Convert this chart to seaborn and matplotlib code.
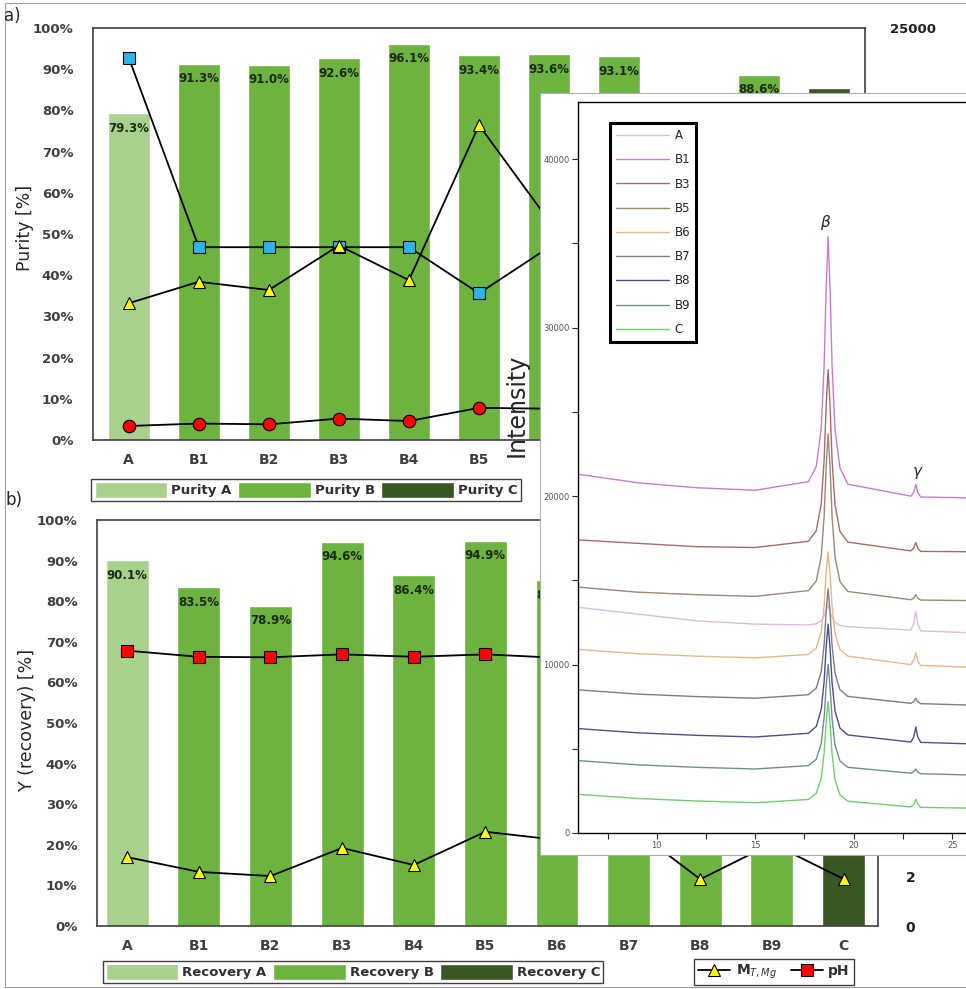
import matplotlib
matplotlib.use('Agg')
import matplotlib.pyplot as plt
from matplotlib.patches import Rectangle, Patch
from matplotlib.lines import Line2D
import numpy as np
import seaborn as sns

# sample names on both bar charts
categories = ['A', 'B1', 'B2', 'B3', 'B4', 'B5', 'B6', 'B7', 'B8', 'B9', 'C']

# a) purity [%] and the three marker series (right axis, 0-25000)
purity = [79.3, 91.3, 91.0, 92.6, 96.1, 93.4, 93.6, 93.1, 81.5, 88.6, 85.5]
conc_square = [23200, 11700, 11700, 11700, 11700, 8900, 11700, 11700, 11700, 11700, 11700]
conc_triangle = [8300, 9600, 9100, 11800, 9700, 19100, 13300, 12000, 11000, 12000, 11000]
conc_circle = [850, 1000, 950, 1300, 1150, 1950, 1900, 1800, 1700, 1800, 1700]

# b) recovery [%], pH and M_T,Mg (right axis)
recovery = [90.1, 83.5, 78.9, 94.6, 86.4, 94.9, 85.2, 88.0, 87.0, 90.0, 82.0]
ph = [11.19, 10.94, 10.92, 11.04, 10.94, 11.04, 10.9, 10.9, 10.9, 10.9, 10.9]
m_mg = [2.8, 2.2, 2.03, 3.17, 2.48, 3.83, 3.5, 4.1, 1.9, 3.35, 1.91]

# inset: XRD patterns read at a set of 2-theta positions
two_theta = [6, 9, 12, 15, 17.7, 18.1, 18.35, 18.5, 18.6, 18.7, 18.8, 18.9, 19.05, 19.3, 19.7,
             22.9, 23.05, 23.15, 23.25, 23.4, 25.7]
xrd_A = [13400, 13000, 12600, 12400, 12350, 12420, 12600, 12900, 13260, 13500, 13160, 12800, 12500, 12320, 12250,
         12050, 12435, 13150, 12420, 12000, 11900]
xrd_B1 = [21300, 20800, 20500, 20350, 20860, 21770, 24040, 27830, 32370, 35400, 32270, 27730, 23940, 21670, 20710,
          20000, 20245, 20700, 20230, 19950, 19900]
xrd_B3 = [17400, 17200, 17000, 16950, 17320, 17960, 19550, 22200, 25380, 27500, 25330, 22150, 19500, 17910, 17270,
          16750, 16925, 17250, 16915, 16720, 16700]
xrd_B5 = [14600, 14300, 14150, 14050, 14390, 14970, 16430, 18850, 21760, 23700, 21710, 18800, 16380, 14920, 14340,
          13850, 13955, 14150, 13945, 13830, 13800]
xrd_B6 = [10900, 10650, 10500, 10400, 10600, 10990, 11940, 13530, 15430, 16700, 15330, 13430, 11840, 10890, 10500,
          10000, 10245, 10700, 10230, 9950, 9850]
xrd_B7 = [8500, 8250, 8100, 8000, 8210, 8610, 9590, 11230, 13190, 14500, 13090, 11130, 9490, 8510, 8110,
          7700, 7805, 8000, 7790, 7680, 7600]
xrd_B8 = [6200, 5950, 5800, 5700, 5920, 6330, 7340, 9030, 11050, 12400, 10950, 8930, 7240, 6230, 5820,
          5400, 5715, 6300, 5700, 5380, 5300]
xrd_B9 = [4300, 4050, 3900, 3800, 4000, 4380, 5310, 6880, 8750, 10000, 8650, 6780, 5210, 4280, 3900,
          3550, 3640, 3800, 3630, 3520, 3450]
xrd_C = [2300, 2050, 1900, 1800, 1990, 2360, 3260, 4780, 6590, 7800, 6490, 4680, 3160, 2260, 1890,
         1550, 1710, 2000, 1700, 1520, 1480]
xrd_names = ['A', 'B1', 'B3', 'B5', 'B6', 'B7', 'B8', 'B9', 'C']
xrd_colors = ['#dcbcdc', '#c97ccf', '#a86a6a', '#9a8a78', '#e8b888', '#7c7c8c', '#4e4e8e', '#6f8f8f', '#6ed06e']

col_a, col_b, col_c = '#a9d18e', '#6db33f', '#385723'
bar_colors = {c: (col_a if c == 'A' else col_c if c == 'C' else col_b) for c in categories}

sns.set_theme(style='white')
plt.rcParams['font.family'] = ['DejaVu Sans']

W, H = 966, 989
fig = plt.figure(figsize=(W / 100, H / 100), dpi=100)


def box(l, t, r, b):
    return [l / W, 1 - b / H, (r - l) / W, (b - t) / H]


def style_bar_axes(ax):
    for s in ax.spines.values():
        s.set_color('#404040')
        s.set_linewidth(1.2)
    ax.set_ylim(0, 100)
    ax.set_yticks(range(0, 101, 10))
    ax.set_yticklabels([f'{t}%' for t in range(0, 101, 10)], fontweight='bold', fontsize=9.5, color='#404040')
    ax.tick_params(axis='y', length=0, pad=14)
    ax.tick_params(axis='x', length=0, pad=9)
    for t in ax.get_xticklabels():
        t.set_fontweight('bold')
        t.set_fontsize(10)
        t.set_color('#404040')
    ax.set_xlabel('')
    ax.set_ylabel('')


x = np.arange(len(categories))
line_kw = dict(color='black', lw=1.3, mec='black', mew=0.8, ms=9)
patch_leg = dict(loc='center', frameon=True, fancybox=False, edgecolor='#404040', framealpha=1,
                 prop=dict(weight='bold', size=9.5), handleheight=1.5, handletextpad=0.3,
                 borderpad=0.25, labelcolor='#303030', ncol=3)

# ---- a) purity
ax1 = fig.add_axes(box(93, 28, 865, 440))
sns.barplot(x=categories, y=purity, hue=categories, palette=bar_colors, width=0.6,
            saturation=1, legend=False, ax=ax1)
style_bar_axes(ax1)
ax1.set_xlim(-0.51, 10.51)
for i, v in enumerate(purity):
    ax1.text(i, v - 3.6, f'{v:.1f}%', ha='center', va='center', fontsize=8.5,
             fontweight='bold', color='#1b2a12')

ax1r = ax1.twinx()
ax1r.set_ylim(0, 25000)
ax1r.set_yticks(range(0, 25001, 5000))
ax1r.set_yticklabels([str(t) for t in range(0, 25001, 5000)], fontweight='bold', fontsize=9.5, color='#202020')
ax1r.tick_params(axis='y', length=0, pad=18)
ax1r.plot(x, conc_square, marker='s', mfc='#29b6f0', **line_kw)
ax1r.plot(x, conc_triangle, marker='^', mfc='#ffff00', **line_kw)
ax1r.plot(x, conc_circle, marker='o', mfc='#ff0000', **line_kw)
for s in ax1r.spines.values():
    s.set_visible(False)

fig.legend([Patch(fc=col_a), Patch(fc=col_b), Patch(fc=col_c)], ['Purity A', 'Purity B', 'Purity C'],
           bbox_to_anchor=(306 / W, 1 - 490 / H), handlelength=5.5, columnspacing=0.5, **patch_leg)

# ---- b) recovery
ax2 = fig.add_axes(box(97, 520, 878, 926))
sns.barplot(x=categories, y=recovery, hue=categories, palette=bar_colors, width=0.6,
            saturation=1, legend=False, ax=ax2)
style_bar_axes(ax2)
ax2.set_xlim(-0.42, 10.48)
for i, v in enumerate(recovery):
    ax2.text(i, v - 3.7, f'{v:.1f}%', ha='center', va='center', fontsize=8.5,
             fontweight='bold', color='#1b2a12')

ax2r = ax2.twinx()
ax2r.set_ylim(0, 16.5)
ax2r.set_yticks(range(0, 17, 2))
ax2r.set_yticklabels([str(t) for t in range(0, 17, 2)], fontweight='bold', fontsize=10, color='#202020')
ax2r.tick_params(axis='y', length=0, pad=20)
ax2r.plot(x, ph, marker='s', mfc='#ff0000', **line_kw)
ax2r.plot(x, m_mg, marker='^', mfc='#ffff00', **line_kw)
for s in ax2r.spines.values():
    s.set_visible(False)

fig.legend([Patch(fc=col_a), Patch(fc=col_b), Patch(fc=col_c)], ['Recovery A', 'Recovery B', 'Recovery C'],
           bbox_to_anchor=(353 / W, 1 - 972 / H), handlelength=5.5, columnspacing=0.5, **patch_leg)
fig.legend([Line2D([], [], marker='^', mfc='#ffff00', **line_kw),
            Line2D([], [], marker='s', mfc='#ff0000', **line_kw)],
           [r'M$_{T,Mg}$', 'pH'], loc='center', bbox_to_anchor=(774 / W, 1 - 972 / H), ncol=2,
           frameon=True, fancybox=False, edgecolor='#404040', framealpha=1,
           prop=dict(weight='bold', size=10), handlelength=2.3, columnspacing=1.0,
           handletextpad=0.4, borderpad=0.3, borderaxespad=0.6, labelcolor='#303030')

fig.text(25 / W, 1 - 228 / H, 'Purity [%]', rotation=90, ha='center', va='center', fontsize=12.5)
fig.text(27 / W, 1 - 720 / H, 'Y (recovery) [%]', rotation=90, ha='center', va='center', fontsize=12.5)
fig.text(12 / W, 1 - 16 / H, 'a)', ha='center', va='center', fontsize=12)
fig.text(14 / W, 1 - 500 / H, 'b)', ha='center', va='center', fontsize=12)

# outer screenshot border
fig.add_artist(Rectangle((5 / W, 2 / H), 1.0, (H - 5) / H, transform=fig.transFigure,
                         fill=False, edgecolor='#a0a0a0', lw=0.8))

# ---- inset with XRD patterns
fig.add_artist(Rectangle((540 / W, 1 - 855 / H), (W - 540) / W + 0.01, (855 - 93) / H,
                         transform=fig.transFigure, facecolor='white', edgecolor='#b0b0b0',
                         lw=0.8, zorder=1))
ins = fig.add_axes(box(578, 102, W, 833))
ins.set_zorder(2)
for name, vals, c in zip(xrd_names, [xrd_A, xrd_B1, xrd_B3, xrd_B5, xrd_B6, xrd_B7, xrd_B8, xrd_B9, xrd_C],
                         xrd_colors):
    ins.plot(two_theta, vals, color=c, lw=1.0, label=name)
ins.set_xlim(6, 25.7)
ins.set_ylim(0, 43400)
ins.spines['right'].set_visible(False)
for s in ['left', 'bottom', 'top']:
    ins.spines[s].set_color('black')
    ins.spines[s].set_linewidth(1.0)
xt = np.arange(7.5, 25.1, 2.5)
ins.set_xticks(xt)
ins.set_xticklabels([f'{int(t)}' if t % 5 == 0 else '' for t in xt])
yt = np.arange(0, 40001, 5000)
ins.set_yticks(yt)
ins.set_yticklabels([f'{int(t)}' if t % 10000 == 0 else '' for t in yt])
ins.tick_params(bottom=True, left=True, direction='out', length=4, width=0.8,
                labelsize=6, labelcolor='#555555', pad=2)
ins.text(18.59, 35700, r'$\beta$', ha='center', va='bottom', fontsize=11)
ins.text(23.26, 20900, r'$\gamma$', ha='center', va='bottom', fontsize=11)
leg = ins.legend(loc='upper left', bbox_to_anchor=(0.067, 0.979), frameon=True, fancybox=False,
                 edgecolor='black', framealpha=1, fontsize=8.5, handlelength=4.5,
                 labelspacing=0.95, borderpad=0.5, handletextpad=0.5)
leg.get_frame().set_linewidth(2.2)

fig.text(517 / W, 1 - 405 / H, 'Intensity', rotation=90, ha='center', va='center', fontsize=17, zorder=5)

fig.savefig('out.png', dpi=100)
